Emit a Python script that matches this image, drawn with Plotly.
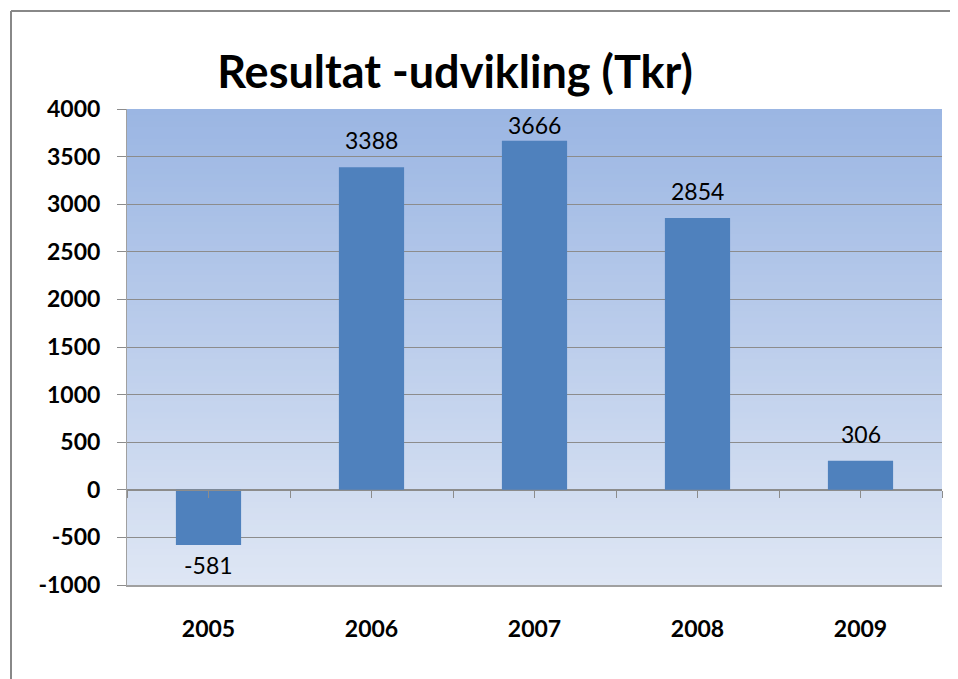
import plotly.graph_objects as go

years = ["2005", "2006", "2007", "2008", "2009"]
values = [-581, 3388, 3666, 2854, 306]
y_ticks = [-1000, -500, 0, 500, 1000, 1500, 2000, 2500, 3000, 3500, 4000]
title_text = "Resultat -udvikling (Tkr)"

FONT = "Lato"
OFF = 8  # page body offset
W, H = 958 - OFF, 679 - OFF
L, R, T, B = 127 - OFF, W - (942 - OFF), 109 - OFF, H - (585 - OFF)
pw, ph = W - L - R, H - T - B

ncat = len(years)
xpos = list(range(ncat))
ymin, ymax = y_ticks[0], y_ticks[-1]
px_per_unit = ph / (ymax - ymin)

fig = go.Figure()
fig.add_trace(go.Bar(x=xpos, y=values, marker=dict(color="#4F81BD", line=dict(width=0)),
                     width=0.4, hovertext=years, hoverinfo="text+y"))

# gradient background strips (overlapping to avoid seams)
top = (155, 182, 227)
bot = (222, 230, 244)
n = 80
shapes = []
for i in range(n):
    t = i / (n - 1)
    c = tuple(round(top[k] + (bot[k] - top[k]) * t) for k in range(3))
    shapes.append(dict(type="rect", xref="paper", yref="paper", x0=0, x1=1,
                       y0=max(0, 1 - (i + 1.8) / n), y1=1 - i / n,
                       fillcolor="rgb(%d,%d,%d)" % c, line=dict(width=0), layer="below"))
# outer frame (left and top edges)
fx0 = (11 - OFF - L) / pw
fx1 = (W - L) / pw
fy0 = -B / ph
fy1 = (H - B - (11 - OFF)) / ph
shapes.append(dict(type="line", xref="paper", yref="paper", x0=fx0, x1=fx0, y0=fy0, y1=fy1,
                   line=dict(color="#888888", width=2)))
shapes.append(dict(type="line", xref="paper", yref="paper", x0=fx0, x1=fx1, y0=fy1, y1=fy1,
                   line=dict(color="#888888", width=2)))

annotations = []
for xi, v in zip(xpos, values):
    if v >= 0:
        room = (ymax - v) * px_per_unit
        shift = min(27, room - 16)
    else:
        shift = -20
    annotations.append(dict(x=xi, y=v, xref="x", yref="y", text=str(v), showarrow=False,
                            yanchor="middle", yshift=shift,
                            font=dict(family=FONT, size=23, color="#000000")))

tick_pos = [i * 0.5 - 0.5 for i in range(2 * ncat + 1)]

fig.update_layout(
    width=W, height=H,
    margin=dict(l=L, r=R, t=T, b=B),
    paper_bgcolor="white", plot_bgcolor="rgba(0,0,0,0)",
    showlegend=False,
    title=dict(text=title_text, x=(455 - OFF - L) / pw, xref="paper", xanchor="center",
               y=1 - (72 - OFF) / H, yref="container", yanchor="middle",
               font=dict(family=FONT, size=45, color="#000000", weight="bold")),
    shapes=shapes, annotations=annotations,
    xaxis=dict(range=[-0.5, ncat - 0.5], tickvals=xpos, ticktext=years, showgrid=False,
               showline=True, linecolor="#A0A0A0", linewidth=2,
               ticks="", ticklabelstandoff=22,
               tickfont=dict(family=FONT, size=23, color="#000000", weight="bold"), zeroline=False),
    xaxis2=dict(overlaying="x", anchor="free", position=(0 - ymin) / (ymax - ymin),
                range=[-0.5, ncat - 0.5], tickvals=tick_pos, showticklabels=False,
                ticks="outside", ticklen=7, tickcolor="#8C8C8C", showline=True,
                linecolor="#8C8C8C", linewidth=1, showgrid=False, zeroline=False),
    yaxis=dict(range=[ymin, ymax], tickvals=y_ticks, ticktext=[str(v) for v in y_ticks],
               showgrid=True, gridcolor="#8C8C8C",
               gridwidth=1, showline=True, linecolor="#A0A0A0", linewidth=1, ticks="outside",
               ticklen=9, tickcolor="#8C8C8C", zeroline=False, ticklabelstandoff=12,
               tickfont=dict(family=FONT, size=23, color="#000000", weight="bold")),
)
fig.add_trace(go.Scatter(x=[0], y=[0], xaxis="x2", yaxis="y", showlegend=False,
                         mode="markers", marker=dict(opacity=0), hoverinfo="skip"))

fig.write_html("out.html", config={"displayModeBar": False})
